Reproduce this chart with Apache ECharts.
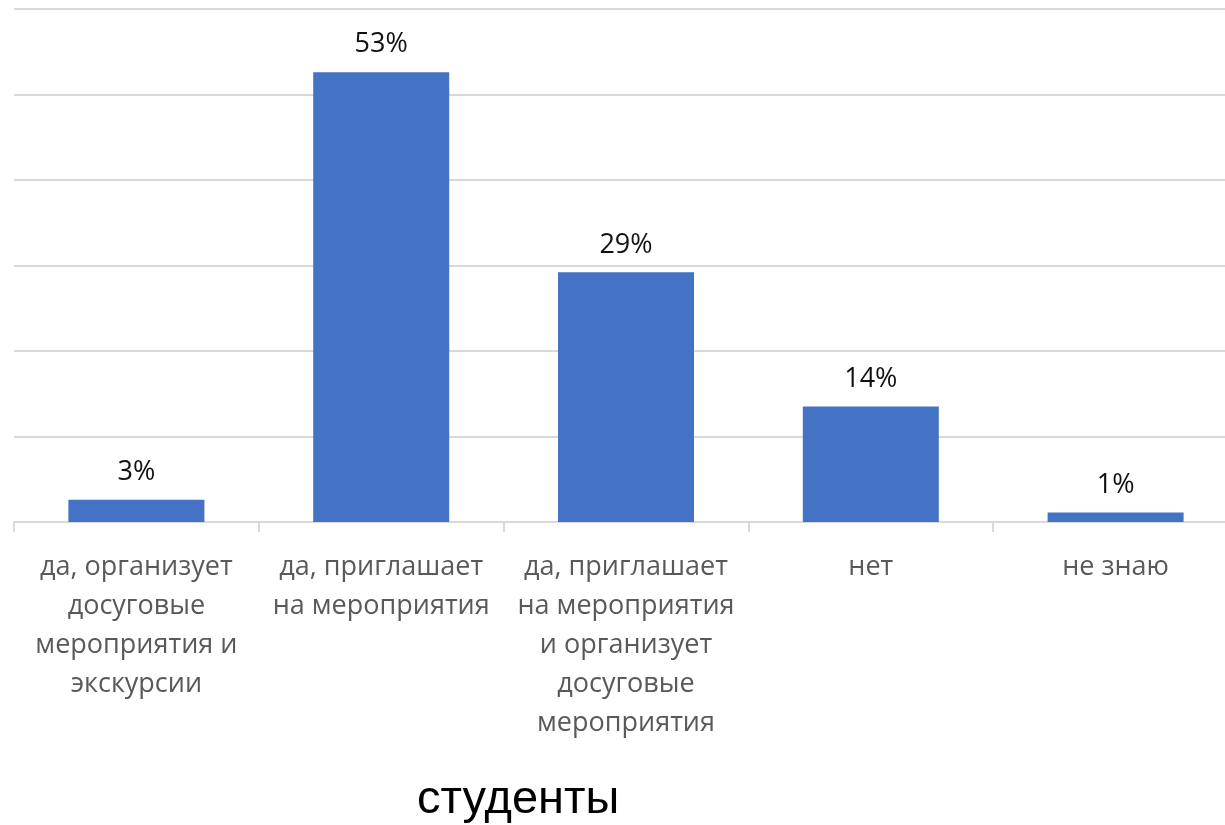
<!DOCTYPE html>
<html>
<head>
<meta charset="utf-8">
<script src="https://cdn.jsdelivr.net/npm/echarts@6/dist/echarts.min.js"></script>
<style>html,body{margin:0;padding:0;background:#fff;}#c{width:1225px;height:825px;}</style>
</head>
<body>
<div id="c"></div>
<script>
const categories = [
  'да, организует\nдосуговые\nмероприятия и\nэкскурсии',
  'да, приглашает\nна мероприятия',
  'да, приглашает\nна мероприятия\nи организует\nдосуговые\nмероприятия',
  'нет',
  'не знаю'
];
const values = [2.6, 52.6, 29.2, 13.5, 1.1];
const titleText = 'студенты';

const chart = echarts.init(document.getElementById('c'));
chart.setOption({
  animation: false,
  backgroundColor: '#fff',
  title: {
    text: titleText,
    left: 412,
    top: 772,
    textStyle: { fontFamily: 'Liberation Sans', fontSize: 47, fontWeight: 'normal', color: '#000' }
  },
  grid: { left: 14, top: 9, width: 1224, height: 513, containLabel: false, outerBoundsMode: 'none' },
  xAxis: {
    type: 'category',
    data: categories,
    axisLine: { lineStyle: { color: '#d9d9d9', width: 2 } },
    axisTick: { show: true, length: 10, lineStyle: { color: '#d9d9d9', width: 2 } },
    axisLabel: {
      interval: 0,
      margin: 26,
      color: '#595959',
      fontFamily: 'Open Sans',
      fontSize: 27,
      lineHeight: 39
    }
  },
  yAxis: {
    type: 'value',
    min: 0, max: 60, interval: 10,
    axisLabel: { show: false },
    axisLine: { show: false },
    axisTick: { show: false },
    splitLine: { lineStyle: { color: '#d9d9d9', width: 2 } }
  },
  series: [{
    type: 'bar',
    data: values,
    barWidth: 136,
    itemStyle: { color: '#4472c4' },
    label: {
      show: true,
      position: 'top',
      distance: 14,
      formatter: function (p) { return Math.round(p.value) + '%'; },
      color: '#111',
      fontFamily: 'Open Sans',
      fontSize: 27
    }
  }]
});
</script>
</body>
</html>
